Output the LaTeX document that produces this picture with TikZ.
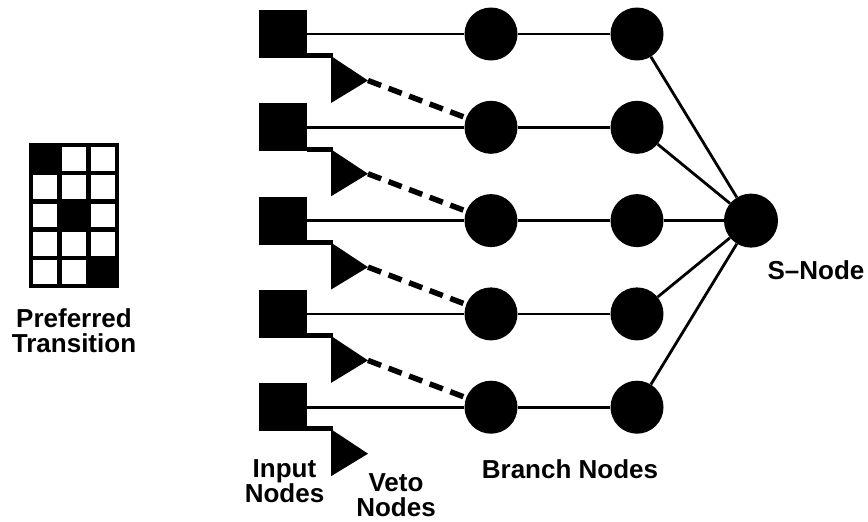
\documentclass[tikz,border=0pt]{standalone}
\usepackage{fontspec}
\setmainfont{Liberation Sans}
\begin{document}
\begin{tikzpicture}[x=1pt,y=-1pt,
  inputnode/.style={rectangle,fill=black,minimum size=48pt,inner sep=0pt},
  unit/.style={circle,fill=black,minimum size=53pt,inner sep=0pt},
  link/.style={line width=2.8pt},
  veto/.style={line width=5.5pt,dash pattern=on 14pt off 8pt},
  stub/.style={line width=5pt},
  cell/.style={draw=black,line width=4.5pt},
  caption/.style={font=\fontsize{26}{25}\selectfont\bfseries,align=center,anchor=base,inner sep=0pt}]
\useasboundingbox (0,0) rectangle (868,522);

% transition grid (3 columns x 5 rows)
\foreach \c in {0,1,2} {
  \foreach \rr in {0,...,4} {
    \draw[cell,fill=white] (31,145)++(28.67*\c,28.2*\rr) rectangle ++(28.67,28.2);
  }
}
\foreach \c/\rr in {0/0,1/2,2/4} {
  \draw[cell,fill=black] (31,145)++(28.67*\c,28.2*\rr) rectangle ++(28.67,28.2);
}

% input, branch and output units per row
\foreach \i in {1,...,5} {
  \pgfmathsetmacro\r{34+93.3*(\i-1)}
  \node[inputnode] (in\i) at (282.5,\r) {};
  \node[unit] (br\i) at (491,\r) {};
  \node[unit] (out\i) at (637,\r) {};
  \coordinate (vtop\i) at (331,\r+22);
  \coordinate (vbot\i) at (331,\r+69);
  \coordinate (vtip\i) at (368,\r+46.5);
}
\node[unit,minimum size=54pt] (s) at (751,220.6) {};

% solid connections
\foreach \i in {1,...,5} {
  \draw[link] (in\i) -- (br\i);
  \draw[link] (br\i) -- (out\i);
  \draw[link] (out\i) -- (s);
}

% veto units
\foreach \i in {1,...,5} {
  \fill (vtop\i) -- (vtip\i) -- (vbot\i) -- cycle;
  \draw[stub] ([yshift=2.5pt]in\i.south east) -- ([yshift=2.5pt,xshift=2pt]in\i.south east -| vtop\i);
}
\foreach \i [evaluate=\i as \j using int(\i+1)] in {1,...,4} {
  \draw[veto] (vtip\i) -- (br\j);
}

% captions (base anchor sits on the last line)
\node[caption] (ptl) at (74,352) {Preferred\\Transition};
\node[caption] (inl) at (284.5,502) {Input\\Nodes};
\node[caption] (vtl) at (396,516) {Veto\\Nodes};
\node[caption] (brl) at (570,478) {Branch Nodes};
\node[caption] (sl) at (816,279) {S--Node};
\end{tikzpicture}
\end{document}
